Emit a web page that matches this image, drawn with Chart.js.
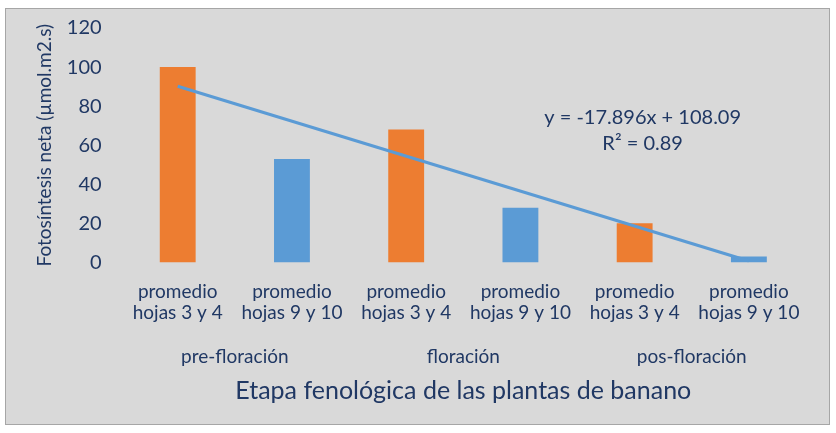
<!DOCTYPE html>
<html>
<head>
<meta charset="utf-8">
<script src="https://cdn.jsdelivr.net/npm/chart.js@4"></script>
<style>
    html, body { margin: 0; padding: 0; background: #ffffff; }
    #wrap { width: 836px; height: 433px; }
</style>
</head>
<body>
<div id="wrap"><canvas id="chart" width="836" height="433"></canvas></div>
<script>
// Data
const categories = [
    ['promedio', 'hojas 3 y 4'], ['promedio', 'hojas 9 y 10'],
    ['promedio', 'hojas 3 y 4'], ['promedio', 'hojas 9 y 10'],
    ['promedio', 'hojas 3 y 4'], ['promedio', 'hojas 9 y 10']
];
const stages = ['pre-floración', 'floración', 'pos-floración'];
const fotosintesis = [100, 53, 68, 28, 20, 3];
// linear trendline, only its two end points (y = -17.896x + 108.09)
const trendline = [90.19, null, null, null, null, 0.71];
const trendLabel = ['y = -17.896x + 108.09', 'R² = 0.89'];
const yTicks = { min: 0, max: 120, step: 20 };

const textColor = '#203864';
const orange = '#ed7d31';
const blue = '#5b9bd5';
const fontFamily = 'Lato, "Open Sans", sans-serif';

// background panel + border, like the spreadsheet chart frame
const framePlugin = {
    id: 'frame',
    beforeDraw(chart) {
        const ctx = chart.ctx;
        ctx.save();
        ctx.fillStyle = '#ffffff';
        ctx.fillRect(0, 0, chart.width, chart.height);
        ctx.fillStyle = '#d9d9d9';
        ctx.fillRect(5, 8, 825, 417);
        ctx.strokeStyle = '#a6a6a6';
        ctx.lineWidth = 1;
        ctx.strokeRect(5.5, 8.5, 824, 416);
        ctx.restore();
    }
};

// trendline equation text
const equationPlugin = {
    id: 'equation',
    afterDatasetsDraw(chart) {
        const ctx = chart.ctx;
        const x = chart.scales.x.getPixelForValue(4.07);
        const y = chart.scales.y;
        ctx.save();
        ctx.fillStyle = textColor;
        ctx.font = '20px ' + fontFamily;
        ctx.textAlign = 'center';
        ctx.textBaseline = 'middle';
        ctx.fillText(trendLabel[0], x, y.getPixelForValue(74));
        ctx.fillText(trendLabel[1], x, y.getPixelForValue(61));
        ctx.restore();
    }
};

const barColors = fotosintesis.map((v, i) => i % 2 === 0 ? orange : blue);

new Chart(document.getElementById('chart'), {
    data: {
        labels: categories,
        datasets: [
            {
                type: 'line',
                data: trendline,
                spanGaps: true,
                borderColor: blue,
                borderWidth: 3,
                pointRadius: 0,
                order: 0
            },
            {
                type: 'bar',
                data: fotosintesis,
                backgroundColor: barColors,
                barPercentage: 0.314,
                categoryPercentage: 1,
                order: 1
            }
        ]
    },
    options: {
        responsive: false,
        animation: false,
        layout: { padding: { top: 28, right: 30, left: 33, bottom: 30 } },
        plugins: {
            legend: { display: false },
            tooltip: { enabled: false }
        },
        scales: {
            x: {
                grid: { display: false },
                border: { display: false },
                ticks: {
                    color: textColor,
                    font: { family: fontFamily, size: 19, lineHeight: 1.12 },
                    maxRotation: 0,
                    padding: 11
                }
            },
            x2: {
                type: 'category',
                labels: stages,
                position: 'bottom',
                offset: true,
                grid: { display: false },
                border: { display: false },
                ticks: {
                    color: textColor,
                    font: { family: fontFamily, size: 19, lineHeight: 1 },
                    padding: 4
                },
                title: {
                    display: true,
                    text: 'Etapa fenológica de las plantas de banano',
                    color: textColor,
                    font: { family: fontFamily, size: 25, lineHeight: 1 },
                    padding: { top: 8, bottom: 0 }
                }
            },
            y: {
                min: yTicks.min,
                max: yTicks.max,
                grid: { display: false },
                border: { display: false },
                ticks: {
                    stepSize: yTicks.step,
                    color: textColor,
                    font: { family: fontFamily, size: 20 },
                    padding: 11
                },
                title: {
                    display: true,
                    text: 'Fotosíntesis neta (µmol.m2.s)',
                    color: textColor,
                    font: { family: fontFamily, size: 19 },
                    padding: { top: 0, bottom: 0 }
                }
            }
        }
    },
    plugins: [framePlugin, equationPlugin]
});
</script>
</body>
</html>
